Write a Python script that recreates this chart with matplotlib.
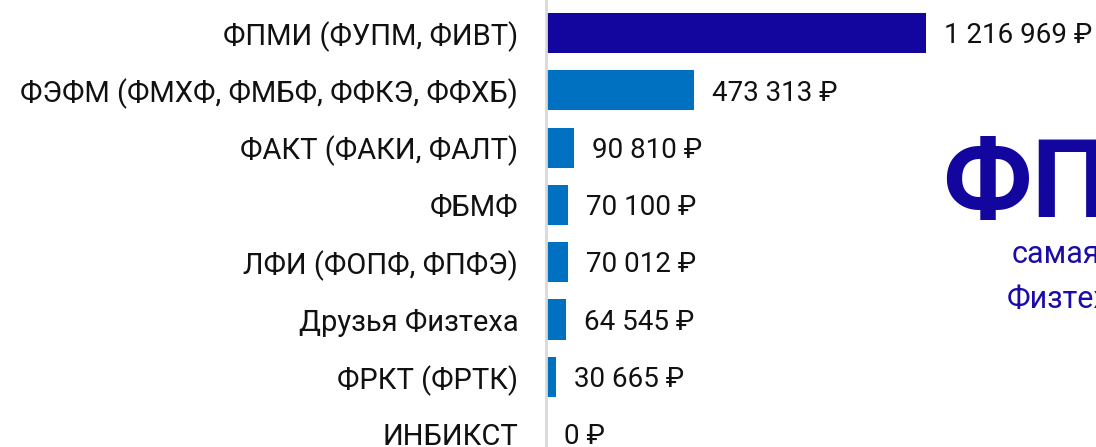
import matplotlib
matplotlib.use("Agg")
import matplotlib.pyplot as plt

categories = ["ФПМИ (ФУПМ, ФИВТ)", "ФЭФМ (ФМХФ, ФМБФ, ФФКЭ, ФФХБ)", "ФАКТ (ФАКИ, ФАЛТ)",
              "ФБМФ", "ЛФИ (ФОПФ, ФПФЭ)", "Друзья Физтеха", "ФРКТ (ФРТК)", "ИНБИКСТ"]
values = [1216969, 473313, 90810, 70100, 70012, 64545, 30665, 0]
colors = ["#12069e"] + ["#0070c0"] * 7

def fmt(v):
    return f"{v:,}".replace(",", " ") + " ₽"

plt.rcParams['font.family'] = ['Roboto', 'DejaVu Sans']
fig = plt.figure(figsize=(10.96, 4.47), dpi=100)
ax = fig.add_axes([546/1096, 0, 550/1096, 1])
y = list(range(len(categories)))
ax.barh(y, values, height=0.7, color=colors, left=0)
ax.set_xlim(0, 550 * 3202.5)
ax.set_ylim(7.225, -0.576)
ax.set_yticks(y)
ax.set_yticklabels(categories, fontsize=21, color="#111111")
ax.tick_params(axis='y', length=0, pad=20)
ax.set_xticks([])
for s in ["top", "right", "bottom"]:
    ax.spines[s].set_visible(False)
ax.spines["left"].set_color("#d9d9d9")
ax.spines["left"].set_linewidth(2)
for yi, v in zip(y, values):
    ax.annotate(fmt(v), (v, yi), xytext=(13, -2), textcoords="offset points",
                va="center", ha="left", fontsize=20, color="#111111")

fig.text(942/1096, 1 - 217/447, "ФПМИ", fontsize=79, color="#12069e",
         ha="left", va="baseline", fontweight="bold")
fig.text(1012/1096, 1 - 263/447, "самая", fontsize=22, color="#1a0ca8",
         ha="left", va="baseline")
fig.text(1007/1096, 1 - 308/447, "Физтеха", fontsize=22, color="#1a0ca8",
         ha="left", va="baseline")
fig.savefig("out.png", dpi=100)
